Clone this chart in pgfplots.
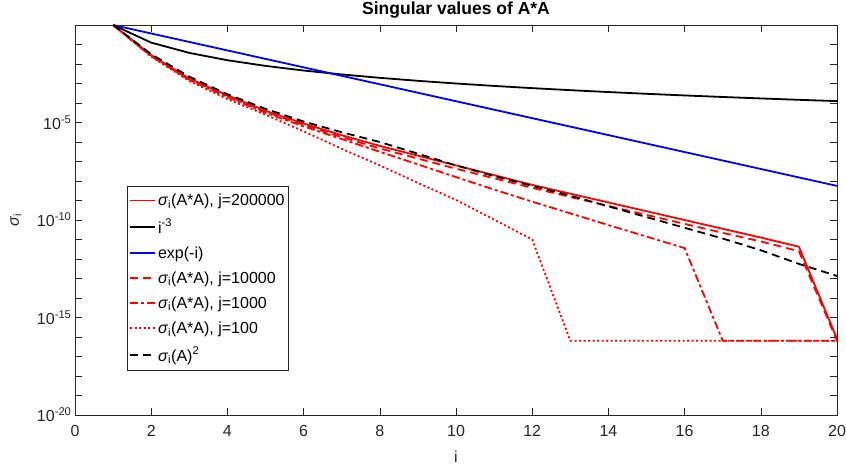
\documentclass[border=0pt]{standalone}
\usepackage{fontspec}
\setmainfont{Liberation Sans}
\usepackage{pgfplots}
\usepackage{pgfplotstable}
\pgfplotsset{compat=1.18}

% columns: i, then -log10 of sigma for each series
\pgfplotstableread{
i  ssA   j200k  j10k   j1k    j100
1  0     0      0      0      0
2  1.50  1.55   1.57   1.60   1.62
3  2.65  2.75   2.78   2.82   2.87
4  3.55  3.60   3.63   3.70   3.80
5  4.30  4.40   4.45   4.50   4.60
6  4.95  5.05   5.12   5.20   5.45
7  5.50  5.65   5.75   5.85   6.35
8  6.00  6.20   6.33   6.50   7.20
9  6.60  6.70   6.85   7.15   8.10
10 7.20  7.20   7.37   7.80   8.97
11 7.75  7.70   7.86   8.44   9.98
12 8.25  8.20   8.35   9.06   11.00
13 8.75  8.65   8.82   9.66   16.19
14 9.30  9.10   9.28   10.26  16.19
15 9.85  9.55   9.74   10.85  16.19
16 10.40 10.00  10.20  11.44  16.19
17 10.95 10.45  10.66  16.19  16.19
18 11.55 10.90  11.10  16.19  16.19
19 12.25 11.37  11.60  16.19  16.19
20 12.87 16.10  16.19  16.19  16.19
}\svtable

\definecolor{axgray}{rgb}{0.15,0.15,0.15}

\begin{document}
\begin{tikzpicture}
\path[use as bounding box] (-75pt,-51pt) rectangle (771pt,415pt);
\begin{axis}[
  at={(0pt,0pt)}, anchor=south west,
  width=762pt, height=390pt, scale only axis,
  xmin=0, xmax=20, ymin=1e-20, ymax=1,
  ymode=log,
  xtick={0,2,...,20},
  ytick={1e-20,1e-19,1e-18,1e-17,1e-16,1e-15,1e-14,1e-13,1e-12,1e-11,1e-10,1e-9,1e-8,1e-7,1e-6,1e-5,1e-4,1e-3,1e-2,1e-1,1},
  yticklabels={10\textsuperscript{-20},,,,,10\textsuperscript{-15},,,,,10\textsuperscript{-10},,,,,10\textsuperscript{-5},,,,,},
  yminorticks=false,
  major tick length=7pt,
  tick style={color=axgray, line width=0.6pt},
  axis line style={color=axgray, line width=0.6pt},
  /pgf/number format/assume math mode=true,
  ticklabel style={font=\fontsize{16}{19}\selectfont, text=axgray},
  xticklabel style={yshift=-7pt},
  title={Singular values of A*A},
  title style={at={(axis description cs:0.5,1.011)}, anchor=base, font=\fontsize{17.5}{20}\selectfont\bfseries},
  xlabel={i},
  xlabel style={at={(axis description cs:0.5,-0.1205)}, anchor=base, font=\fontsize{16}{19}\selectfont, text=axgray},
  ylabel={\textit{σ}\textsubscript{i}},
  ylabel style={at={(axis description cs:-0.0775,0.5)}, anchor=center, rotate=0, font=\fontsize{16}{19}\selectfont, text=axgray},
  legend cell align=left,
  legend style={at={(axis description cs:0.0682,0.587)}, anchor=north west,
    font=\fontsize{16}{19}\selectfont, draw=axgray, line width=0.6pt,
    row sep=8pt, inner xsep=2pt, inner ysep=5.5pt},
  legend image code/.code={\draw[#1] (0pt,0pt) -- (25pt,0pt);},
  every axis plot/.append style={line width=1.8pt},
]
\addplot[red, solid] table[x=i, y expr={10^(-\thisrow{j200k})}] {\svtable};
\addlegendentry{\textit{σ}\textsubscript{i}(A*A), j=200000}
\addplot[black, solid] coordinates {
(1,1) (2,0.125) (3,0.037037) (4,0.015625) (5,0.008) (6,0.0046296) (7,0.0029155)
(8,0.0019531) (9,0.0013717) (10,0.001) (11,0.00075131) (12,0.0005787)
(13,0.00045517) (14,0.00036443) (15,0.0002963) (16,0.00024414)
(17,0.00020354) (18,0.00017147) (19,0.0001458) (20,0.000125)};
\addlegendentry{i\textsuperscript{-3}}
\addplot[blue, solid] coordinates {
(1,1) (2,0.36788) (3,0.13534) (4,0.049787) (5,0.018316) (6,0.0067379)
(7,0.0024788) (8,0.00091188) (9,0.00033546) (10,0.00012341) (11,4.54e-5)
(12,1.6702e-5) (13,6.1442e-6) (14,2.2603e-6) (15,8.3153e-7) (16,3.059e-7)
(17,1.1254e-7) (18,4.1399e-8) (19,1.523e-8) (20,5.6028e-9)};
\addlegendentry{exp(-i)}
\addplot[red, dash pattern=on 8pt off 5pt] table[x=i, y expr={10^(-\thisrow{j10k})}] {\svtable};
\addlegendentry{\textit{σ}\textsubscript{i}(A*A), j=10000}
\addplot[red, dash pattern=on 8pt off 3pt on 3pt off 3pt] table[x=i, y expr={10^(-\thisrow{j1k})}] {\svtable};
\addlegendentry{\textit{σ}\textsubscript{i}(A*A), j=1000}
\addplot[red, dash pattern=on 2pt off 2.5pt] table[x=i, y expr={10^(-\thisrow{j100})}] {\svtable};
\addlegendentry{\textit{σ}\textsubscript{i}(A*A), j=100}
\addplot[black, dash pattern=on 8pt off 5pt] table[x=i, y expr={10^(-\thisrow{ssA})}] {\svtable};
\addlegendentry{\textit{σ}\textsubscript{i}(A)\textsuperscript{2}}
\end{axis}
\end{tikzpicture}
\end{document}
